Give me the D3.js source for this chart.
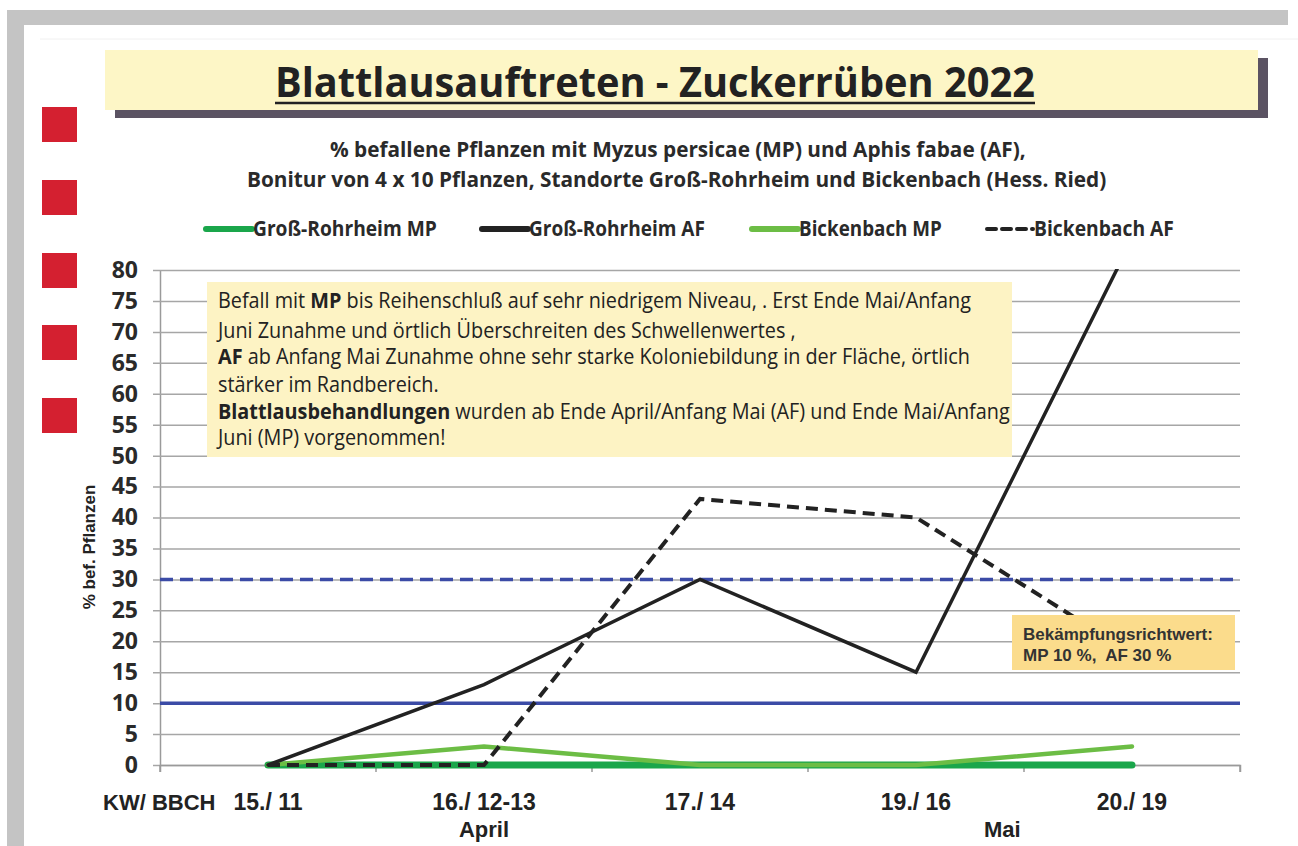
<!DOCTYPE html>
<html>
<head>
<meta charset="utf-8">
<script src="https://cdn.jsdelivr.net/npm/d3@7"></script>
<style>
  body { margin: 0; background: #fff; }
  svg { display: block; }
</style>
</head>
<body>
<div id="chart"></div>
<script>
// data
var categories = ["15./ 11", "16./ 12-13", "17./ 14", "19./ 16", "20./ 19"];
var grossRohrheimMP = [0, 0, 0, 0, 0];
var grossRohrheimAF = [0, 13, 30, 15, 85];
var bickenbachMP = [0, 3, 0, 0, 3];
var bickenbachAF = [0, 0, 43, 40, 18];
var yTicks = [0, 5, 10, 15, 20, 25, 30, 35, 40, 45, 50, 55, 60, 65, 70, 75, 80];
var thresholdMP = 10;
var thresholdAF = 30;
var months = [["April", 1, 0.5], ["Mai", 3, 0.9]];   // label, category index, position inside band

var series = [
    { name: "Groß-Rohrheim MP", values: grossRohrheimMP, color: "#1aa64b", width: 7, dash: null },
    { name: "Bickenbach MP", values: bickenbachMP, color: "#6cbd45", width: 4.5, dash: null },
    { name: "Groß-Rohrheim AF", values: grossRohrheimAF, color: "#222", width: 3.5, dash: null },
    { name: "Bickenbach AF", values: bickenbachAF, color: "#222", width: 4, dash: "12,7" }
];
var legendOrder = ["Groß-Rohrheim MP", "Groß-Rohrheim AF", "Bickenbach MP", "Bickenbach AF"];
var legendX = [206, 482, 752, 987];
var legendW = [184, 176, 143, 140];

var textLines = [
    [["Befall mit ", false], ["MP", true], [" bis Reihenschluß auf sehr niedrigem Niveau, . Erst Ende Mai/Anfang", false]],
    [["Juni Zunahme und örtlich Überschreiten des Schwellenwertes ,", false]],
    [["AF", true], [" ab Anfang Mai Zunahme ohne sehr starke Koloniebildung in der Fläche, örtlich", false]],
    [["stärker im Randbereich.", false]],
    [["Blattlausbehandlungen", true], [" wurden ab Ende April/Anfang Mai (AF) und Ende Mai/Anfang", false]],
    [["Juni (MP) vorgenommen!", false]]
];

var W = 1298, H = 846;
var svg = d3.select('#chart').append('svg').attr('width', W).attr('height', H);
var sans = "'Open Sans', sans-serif";
var arial = "'Liberation Sans', Arial, sans-serif";

// frame
svg.append('rect').attr('x', 8).attr('y', 10).attr('width', 1280).attr('height', 15).attr('fill', '#c4c4c4');
svg.append('rect').attr('x', 7).attr('y', 10).attr('width', 17).attr('height', H - 10).attr('fill', '#c4c4c4');
svg.append('line').attr('x1', 40).attr('x2', 1298).attr('y1', 39).attr('y2', 39).attr('stroke', '#f0f0f0');

// red squares
[107, 180, 253, 325, 398].forEach(function (y) {
    svg.append('rect').attr('x', 42).attr('y', y).attr('width', 35).attr('height', 35).attr('fill', '#d42030');
});

// title box
svg.append('rect').attr('x', 115).attr('y', 58).attr('width', 1153).attr('height', 60).attr('fill', '#5b5363');
svg.append('rect').attr('x', 105).attr('y', 50).attr('width', 1153).attr('height', 60).attr('fill', '#fdf6c6');

function fitText(sel, width) {
    var w = sel.node().getComputedTextLength();
    var x = +sel.attr('data-x'), y = +sel.attr('data-y');
    sel.attr('transform', 'translate(' + x + ',' + y + ') scale(' + (width / w) + ',1)');
}

var title = svg.append('text').attr('data-x', 275).attr('data-y', 97)
    .attr('font-family', sans).attr('font-weight', 700).attr('font-size', 41).attr('fill', '#222')
    .text('Blattlausauftreten - Zuckerrüben 2022');
fitText(title, 760);
svg.append('line').attr('x1', 275).attr('x2', 1035).attr('y1', 103).attr('y2', 103)
    .attr('stroke', '#222').attr('stroke-width', 2.5);

// subtitle
var sub1 = svg.append('text').attr('data-x', 330).attr('data-y', 157)
    .attr('font-family', sans).attr('font-weight', 700).attr('font-size', 22).attr('fill', '#2a2a2a')
    .text('% befallene Pflanzen mit Myzus persicae (MP) und Aphis fabae (AF),');
fitText(sub1, 696);
var sub2 = svg.append('text').attr('data-x', 247).attr('data-y', 187)
    .attr('font-family', sans).attr('font-weight', 700).attr('font-size', 22).attr('fill', '#2a2a2a')
    .text('Bonitur von 4 x 10 Pflanzen, Standorte Groß-Rohrheim und Bickenbach (Hess. Ried)');
fitText(sub2, 860);

// scales
var margin = { left: 160, right: 1240, top: 270, bottom: 765 };
var x = d3.scaleBand().domain(categories).range([margin.left, margin.right]);
var y = d3.scaleLinear().domain([0, 80]).range([margin.bottom, margin.top]);
var cx = function (i) { return x(categories[i]) + x.bandwidth() / 2; };

// grid + y axis
var yAxis = svg.append('g').attr('transform', 'translate(' + margin.left + ',0)')
    .call(d3.axisLeft(y).tickValues(yTicks).tickSize(-(margin.right - margin.left)).tickPadding(22).tickSizeOuter(0));
yAxis.select('.domain').attr('stroke', '#9a9a9a').attr('stroke-width', 1.5);
yAxis.selectAll('.tick line').attr('stroke', '#a6a6a6').attr('stroke-width', 1.5).attr('x1', -7);
yAxis.selectAll('.tick text').attr('font-family', sans).attr('font-weight', 700)
    .attr('font-size', 23).attr('fill', '#2a2a2a');

// x axis
var xAxis = svg.append('g').attr('transform', 'translate(0,' + margin.bottom + ')')
    .call(d3.axisBottom(x).tickSize(7).tickFormat(''));
xAxis.selectAll('.tick line').remove();
xAxis.select('.domain').attr('stroke', '#9a9a9a').attr('stroke-width', 1.5);
var bounds = categories.map(function (c) { return x(c); }).concat([margin.right]);
svg.append('g').selectAll('line').data(bounds).join('line')
    .attr('x1', function (d) { return d; }).attr('x2', function (d) { return d; })
    .attr('y1', margin.bottom).attr('y2', margin.bottom + 7)
    .attr('stroke', '#9a9a9a').attr('stroke-width', 1.5);

svg.append('g').selectAll('text').data(categories).join('text')
    .attr('x', function (d, i) { return cx(i); }).attr('y', 810)
    .attr('text-anchor', 'middle').attr('font-family', arial).attr('font-weight', 700)
    .attr('font-size', 23).attr('fill', '#222').text(function (d) { return d; });
svg.append('text').attr('x', 103).attr('y', 810).attr('font-family', arial).attr('font-weight', 700)
    .attr('font-size', 22).attr('fill', '#222').text('KW/ BBCH');
months.forEach(function (m) {
    svg.append('text').attr('x', x(categories[m[1]]) + x.bandwidth() * m[2]).attr('y', 837)
        .attr('text-anchor', 'middle').attr('font-family', arial).attr('font-weight', 700)
        .attr('font-size', 22).attr('fill', '#222').text(m[0]);
});

// y axis title
svg.append('text').attr('transform', 'translate(95,547) rotate(-90)').attr('text-anchor', 'middle')
    .attr('font-family', arial).attr('font-weight', 700).attr('font-size', 17).attr('fill', '#222')
    .text('% bef. Pflanzen');

// thresholds
svg.append('line').attr('x1', margin.left).attr('x2', margin.right)
    .attr('y1', y(thresholdMP)).attr('y2', y(thresholdMP))
    .attr('stroke', '#3b4ba6').attr('stroke-width', 3.5);
svg.append('line').attr('x1', margin.left).attr('x2', margin.right)
    .attr('y1', y(thresholdAF)).attr('y2', y(thresholdAF))
    .attr('stroke', '#3b4ba6').attr('stroke-width', 3.5).attr('stroke-dasharray', '13,7');

// series
svg.append('clipPath').attr('id', 'plotclip').append('rect')
    .attr('x', margin.left).attr('y', margin.top - 1)
    .attr('width', margin.right - margin.left).attr('height', margin.bottom - margin.top + 10);
var line = d3.line().x(function (d, i) { return cx(i); }).y(function (d) { return y(d); });
var lines = svg.append('g').attr('clip-path', 'url(#plotclip)');
series.forEach(function (s) {
    lines.append('path').attr('d', line(s.values)).attr('fill', 'none')
        .attr('stroke', s.color).attr('stroke-width', s.width)
        .attr('stroke-linecap', s.dash ? 'butt' : 'round').attr('stroke-linejoin', 'miter')
        .attr('stroke-dasharray', s.dash);
});

// legend
legendOrder.forEach(function (name, i) {
    var s = series.filter(function (d) { return d.name === name; })[0];
    var lx = legendX[i];
    svg.append('line').attr('x1', lx).attr('x2', lx + 46).attr('y1', 229).attr('y2', 229)
        .attr('stroke', s.color).attr('stroke-width', s.dash ? 4 : 6)
        .attr('stroke-dasharray', s.dash ? '9,6' : null).attr('stroke-linecap', 'round');
    var t = svg.append('text').attr('data-x', lx + 47).attr('data-y', 236)
        .attr('font-family', sans).attr('font-weight', 700).attr('font-size', 21).attr('fill', '#2a2a2a')
        .text(name);
    fitText(t, legendW[i]);
});

// comment box
svg.append('rect').attr('x', 207).attr('y', 282).attr('width', 805).attr('height', 175).attr('fill', '#fdf3c4');
var lineY = [308, 338, 364, 392, 419, 445];
var measure = svg.append('text').attr('font-family', sans).attr('font-size', 21).text(
    textLines[0].map(function (p) { return p[0]; }).join(''));
var sx = 752 / measure.node().getComputedTextLength();
measure.remove();
textLines.forEach(function (parts, i) {
    var t = svg.append('text').attr('transform', 'translate(218,' + lineY[i] + ') scale(' + sx + ',1)')
        .attr('font-family', sans).attr('font-size', 21).attr('fill', '#222');
    parts.forEach(function (p) {
        t.append('tspan').attr('font-weight', p[1] ? 700 : 400).text(p[0]);
    });
});

// threshold box
svg.append('rect').attr('x', 1012).attr('y', 615).attr('width', 223).attr('height', 55).attr('fill', '#fbdc8c');
svg.append('text').attr('x', 1023).attr('y', 640).attr('font-family', arial).attr('font-weight', 700)
    .attr('font-size', 17).attr('fill', '#333').text('Bekämpfungsrichtwert:');
svg.append('text').attr('x', 1023).attr('y', 661).attr('font-family', arial).attr('font-weight', 700)
    .attr('font-size', 17).attr('fill', '#333').style('white-space', 'pre').text('MP 10 %,  AF 30 %');
</script>
</body>
</html>
